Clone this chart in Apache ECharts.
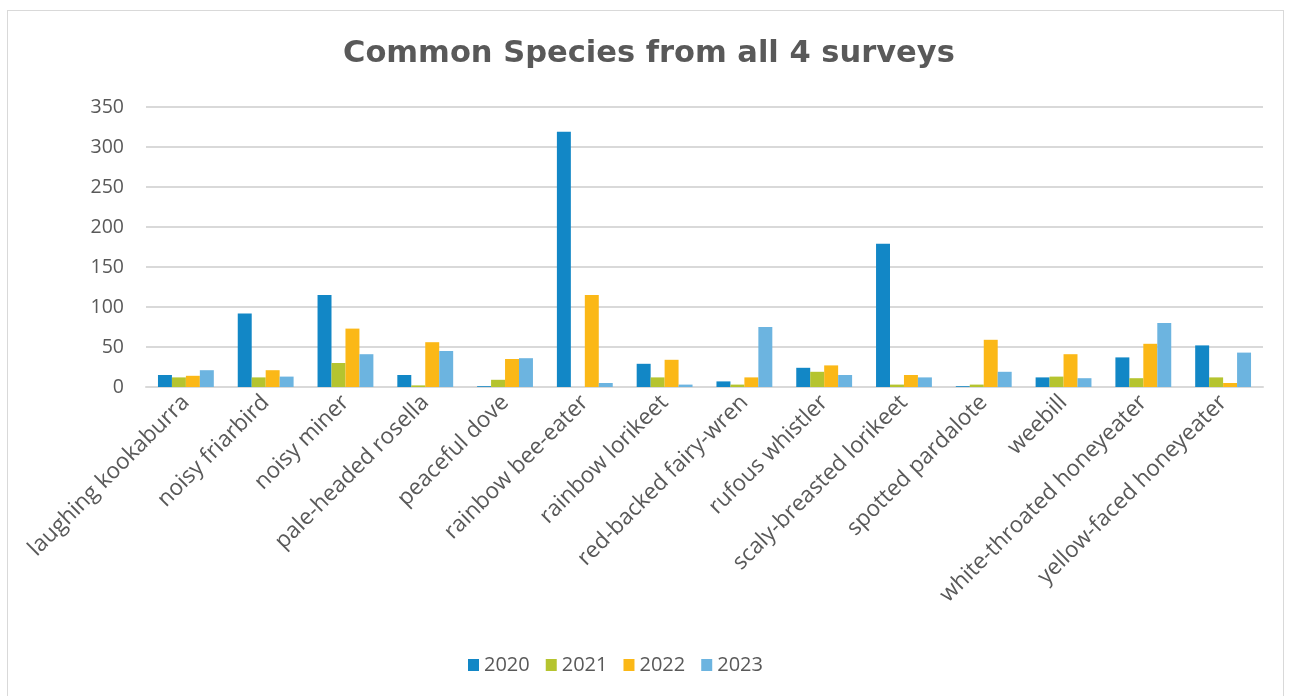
<!DOCTYPE html>
<html>
<head>
<meta charset="utf-8">
<script src="https://cdn.jsdelivr.net/npm/echarts@6/dist/echarts.min.js"></script>
<style>
  html, body { margin: 0; padding: 0; background: #fff; }
  #frame { position: absolute; left: 7px; top: 10px; width: 1275px; height: 700px; border: 1px solid #d9d9d9; }
  #chart { position: absolute; left: 0; top: 0; width: 1290px; height: 696px; }
</style>
</head>
<body>
<div id="frame"></div>
<div id="chart"></div>
<script>
const species = [
  "laughing kookaburra", "noisy friarbird", "noisy miner", "pale-headed rosella",
  "peaceful dove", "rainbow bee-eater", "rainbow lorikeet", "red-backed fairy-wren",
  "rufous whistler", "scaly-breasted lorikeet", "spotted pardalote", "weebill",
  "white-throated honeyeater", "yellow-faced honeyeater"
];
const years = ["2020", "2021", "2022", "2023"];
const s2020 = [15, 92, 115, 15, 1, 319, 29, 7, 24, 179, 1, 12, 37, 52];
const s2021 = [12, 12, 30, 2, 9, 0, 12, 3, 19, 3, 3, 13, 11, 12];
const s2022 = [14, 21, 73, 56, 35, 115, 34, 12, 27, 15, 59, 41, 54, 5];
const s2023 = [21, 13, 41, 45, 36, 5, 3, 75, 15, 12, 19, 11, 80, 43];
const colors = ["#1287c6", "#b5c42f", "#fbb817", "#6cb4e0"];

const chart = echarts.init(document.getElementById("chart"));
const label = { fontFamily: "Open Sans", color: "#595959" };

const series = [s2020, s2021, s2022, s2023].map((data, i) => ({
  name: years[i],
  type: "bar",
  data: data,
  barGap: "0%",
  barCategoryGap: "30%",
  itemStyle: { color: colors[i] }
}));

chart.setOption({
  animation: false,
  title: {
    text: "Common Species from all 4 surveys",
    left: 338,
    top: 34,
    textStyle: { fontFamily: "DejaVu Sans", fontWeight: "bold", fontSize: 30.5, color: "#595959" }
  },
  legend: {
    data: years,
    bottom: 16,
    left: 463,
    itemWidth: 11,
    itemHeight: 12,
    itemGap: 16,
    icon: "rect",
    textStyle: { ...label, fontSize: 20 }
  },
  grid: { left: 146, right: 27, top: 107, bottom: 309 },
  xAxis: {
    type: "category",
    data: species,
    axisLine: { lineStyle: { color: "#d9d9d9", width: 2 } },
    axisTick: { show: false },
    axisLabel: { ...label, fontSize: 22.5, rotate: 45, interval: 0, margin: 12 }
  },
  yAxis: {
    type: "value",
    min: 0,
    max: 350,
    interval: 50,
    axisLine: { show: false },
    axisTick: { show: false },
    splitLine: { lineStyle: { color: "#d9d9d9", width: 2 } },
    axisLabel: { ...label, fontSize: 19.5, margin: 22 }
  },
  series: series
});
</script>
</body>
</html>
